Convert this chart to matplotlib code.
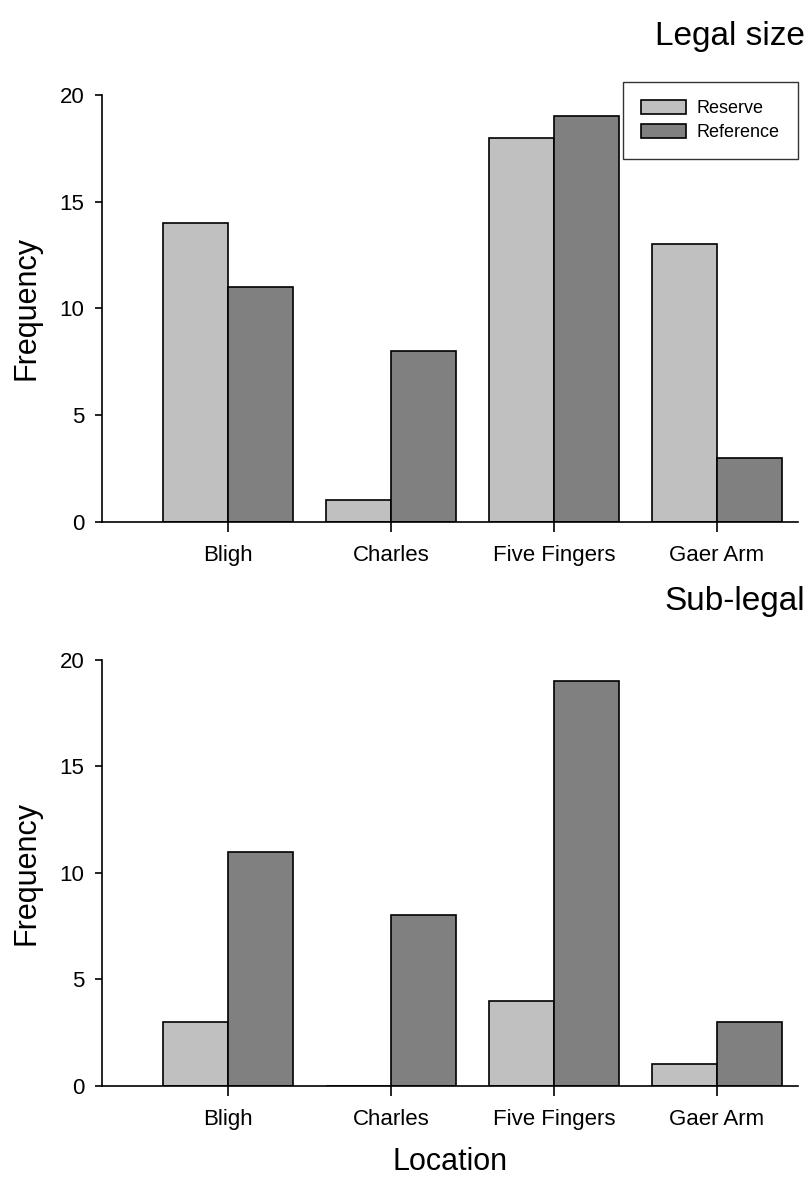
import numpy as np
import matplotlib.pyplot as plt

plt.rcParams['font.family'] = ['Liberation Sans', 'DejaVu Sans']

locations = ["Bligh", "Charles", "Five Fingers", "Gaer Arm"]
legal_reserve = [14, 1, 18, 13]
legal_reference = [11, 8, 19, 3]
sublegal_reserve = [3, 0, 4, 1]
sublegal_reference = [11, 8, 19, 3]

reserve_color = "#c0c0c0"
reference_color = "#808080"

fig = plt.figure(figsize=(8.12, 11.8), dpi=100)
ax1 = fig.add_axes([0.1262, 0.5579, 0.8565, 0.3616])
ax2 = fig.add_axes([0.1262, 0.0799, 0.8565, 0.3608])

x = np.arange(len(locations))
w = 0.4


def draw(ax, reserve, reference, title):
    ax.bar(x - w / 2, reserve, w, color=reserve_color, edgecolor="black",
           linewidth=1.2, label="Reserve")
    ax.bar(x + w / 2, reference, w, color=reference_color, edgecolor="black",
           linewidth=1.2, label="Reference")
    ax.set_xlim(-0.77, 3.497)
    ax.set_ylim(0, 20)
    ax.set_yticks([0, 5, 10, 15, 20])
    ax.set_xticks(x)
    ax.set_xticklabels(locations)
    ax.spines["top"].set_visible(False)
    ax.spines["right"].set_visible(False)
    ax.spines["left"].set_linewidth(1.2)
    ax.spines["bottom"].set_linewidth(1.2)
    ax.tick_params(axis="both", direction="out", width=1.2, labelsize=16)
    ax.tick_params(axis="y", length=5, pad=8)
    ax.tick_params(axis="x", length=7, pad=10)
    ax.set_ylabel("Frequency", fontsize=22, labelpad=13)
    ax.text(1.010, 1.117, title, transform=ax.transAxes, ha="right",
            va="baseline", fontsize=24)


draw(ax1, legal_reserve, legal_reference, "Legal size")
draw(ax2, sublegal_reserve, sublegal_reference, "Sub-legal")

leg = ax1.legend(loc="upper right", bbox_to_anchor=(1.0, 1.0305),
                 fontsize=13, frameon=True, fancybox=False,
                 handlelength=2.5, handleheight=0.78, borderpad=1.0,
                 labelspacing=0.4, handletextpad=0.6, borderaxespad=0)
leg.get_frame().set_edgecolor("black")
leg.get_frame().set_linewidth(1.0)

ax2.set_xlabel("Location", fontsize=22, labelpad=12)

plt.savefig("out.png")
